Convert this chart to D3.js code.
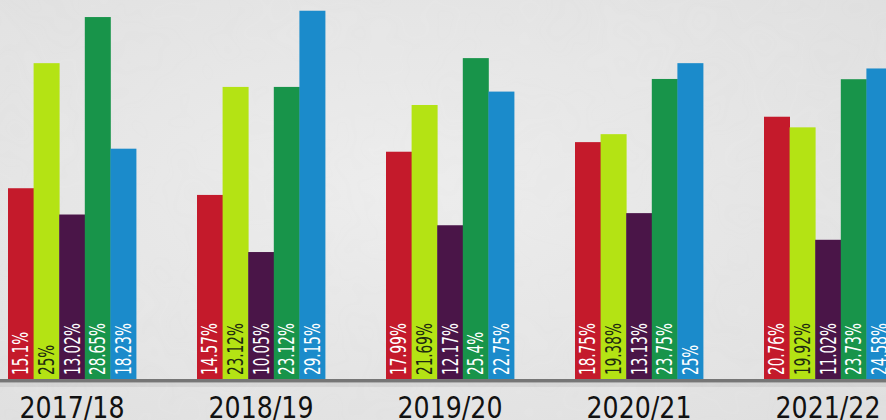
<!DOCTYPE html>
<html>
<head>
<meta charset="utf-8">
<script src="https://cdn.jsdelivr.net/npm/d3@7"></script>
<style>
  html, body { margin: 0; padding: 0; background: #e6e6e6; overflow: hidden; }
  svg { display: block; }
</style>
</head>
<body>
<svg id="chart" width="886" height="420"></svg>
<script>
// Academic years shown along the bottom
const years = ["2017/18", "2018/19", "2019/20", "2020/21", "2021/22"];

// Five series per year, shares in percent
const seriesRed    = [15.1, 14.57, 17.99, 18.75, 20.76];
const seriesLime   = [25, 23.12, 21.69, 19.38, 19.92];
const seriesPurple = [13.02, 10.05, 12.17, 13.13, 11.02];
const seriesGreen  = [28.65, 23.12, 25.4, 23.75, 23.73];
const seriesBlue   = [18.23, 29.15, 22.75, 25, 24.58];

const seriesKeys = ["red", "lime", "purple", "green", "blue"];
const seriesValues = [seriesRed, seriesLime, seriesPurple, seriesGreen, seriesBlue];
const seriesColors = ["#c41a2b", "#b4e314", "#4a1548", "#18944a", "#1b8bcb"];
const labelColors  = ["#ffffff", "#1e2a10", "#ffffff", "#ffffff", "#ffffff"];

const W = 886, H = 420;
const baseY = 379;

const svg = d3.select("#chart");

// Paper-like backdrop
const defs = svg.append("defs");
const grain = defs.append("filter").attr("id", "grain")
  .attr("x", 0).attr("y", 0).attr("width", "100%").attr("height", "100%");
grain.append("feTurbulence").attr("type", "fractalNoise")
  .attr("baseFrequency", 0.012).attr("numOctaves", 3).attr("seed", 7).attr("result", "n");
grain.append("feColorMatrix").attr("in", "n").attr("type", "matrix")
  .attr("values", "0 0 0 0 0.55  0 0 0 0 0.55  0 0 0 0 0.55  0 0 0 0.10 0");

const vign = defs.append("radialGradient").attr("id", "vign")
  .attr("cx", "45%").attr("cy", "45%").attr("r", "75%");
vign.append("stop").attr("offset", "0%").attr("stop-color", "#eeeeee");
vign.append("stop").attr("offset", "100%").attr("stop-color", "#e0e0e0");

svg.append("rect").attr("width", W).attr("height", H).attr("fill", "url(#vign)");
svg.append("rect").attr("width", W).attr("height", H).attr("filter", "url(#grain)").attr("opacity", 0.6);

// Scales
const x0 = d3.scaleBand().domain(years).range([8, 8 + 4 * 189 + 128])
  .paddingInner((189 - 128) / 189).paddingOuter(0);
const x1 = d3.scaleBand().domain(seriesKeys).range([0, x0.bandwidth()]).padding(0);
const y = d3.scaleLinear().domain([0, 30]).range([baseY, 0]);

const rows = years.map((yr, i) => ({
  year: yr,
  bars: seriesKeys.map((k, j) => ({ key: k, idx: j, value: seriesValues[j][i] }))
}));

const groups = svg.append("g").selectAll("g").data(rows).join("g")
  .attr("transform", d => `translate(${x0(d.year)},0)`);

groups.selectAll("rect").data(d => d.bars).join("rect")
  .attr("x", d => x1(d.key))
  .attr("y", d => y(d.value))
  .attr("width", x1.bandwidth() + 0.4)
  .attr("height", d => baseY - y(d.value))
  .attr("fill", d => seriesColors[d.idx]);

// Value labels written upward from the bottom of each bar
groups.selectAll("text.val").data(d => d.bars).join("text")
  .attr("class", "val")
  .attr("transform", d => `translate(${x1(d.key) + x1.bandwidth() / 2 + 7.5},${baseY - 4}) rotate(-90) scale(0.72,1)`)
  .attr("text-anchor", "start")
  .attr("font-family", "'DejaVu Sans Condensed', 'DejaVu Sans', sans-serif")
  .attr("font-size", 21)
  .attr("fill", d => labelColors[d.idx])
  .text(d => d.value + "%");

// Baseline
svg.append("rect").attr("x", 0).attr("y", baseY + 4).attr("width", W).attr("height", 4)
  .attr("fill", "#000").attr("opacity", 0.06);
svg.append("rect").attr("x", 0).attr("y", baseY).attr("width", W).attr("height", 3.5)
  .attr("fill", "#767676");

// Year labels
const xAxis = d3.axisBottom(x0).tickSize(0).tickPadding(0);
const ax = svg.append("g").attr("transform", `translate(0,${baseY})`).call(xAxis);
ax.select(".domain").remove();
ax.selectAll("text")
  .attr("dy", 0)
  .attr("y", 39)
  .attr("fill", "#111")
  .attr("font-family", "'DejaVu Sans Condensed', 'DejaVu Sans', sans-serif")
  .attr("font-size", 31)
  .attr("textLength", 105)
  .attr("lengthAdjust", "spacingAndGlyphs");
</script>
</body>
</html>
